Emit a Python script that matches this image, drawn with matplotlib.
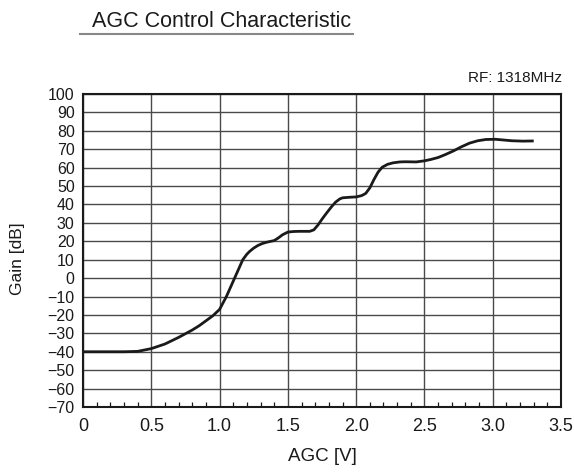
import matplotlib
matplotlib.use("Agg")
import matplotlib.pyplot as plt
from matplotlib.ticker import MultipleLocator
from matplotlib.lines import Line2D

plt.rcParams["font.family"] = ["Liberation Sans", "DejaVu Sans"]

# curve
agc_v = [0.00, 0.10, 0.20, 0.30, 0.40, 0.50, 0.60, 0.70, 0.80, 0.85,
         0.90, 0.95, 1.00, 1.05, 1.08, 1.11, 1.14, 1.17, 1.20, 1.22,
         1.25, 1.28, 1.31, 1.34, 1.37, 1.40, 1.43, 1.46, 1.50, 1.54,
         1.58, 1.66, 1.69, 1.72, 1.75, 1.78, 1.82, 1.85, 1.88, 1.90,
         1.95, 2.00, 2.04, 2.07, 2.10, 2.13, 2.16, 2.19, 2.23, 2.27,
         2.32, 2.36, 2.44, 2.50, 2.55, 2.60, 2.65, 2.71, 2.77, 2.83,
         2.89, 2.95, 3.02, 3.08, 3.14, 3.22, 3.30]
gain_db = [-40.0, -40.0, -40.0, -40.0, -39.8, -38.3, -35.8, -32.2, -28.2, -25.9,
           -23.2, -20.5, -17.0, -10.0, -5.0, 0.0, 5.0, 10.0, 13.0, 14.5,
           16.3, 17.7, 18.7, 19.4, 19.9, 20.4, 21.8, 23.5, 25.0, 25.3,
           25.4, 25.4, 26.2, 28.8, 32.0, 35.0, 38.8, 41.3, 43.0, 43.6,
           43.9, 44.1, 44.8, 46.0, 49.0, 53.5, 57.5, 60.2, 61.8, 62.6,
           63.1, 63.2, 63.1, 63.7, 64.5, 65.5, 67.0, 69.0, 71.3, 73.3,
           74.6, 75.3, 75.4, 75.0, 74.6, 74.4, 74.5]

x_ticks = [0, 0.5, 1.0, 1.5, 2.0, 2.5, 3.0, 3.5]
x_labels = ["0", "0.5", "1.0", "1.5", "2.0", "2.5", "3.0", "3.5"]
y_ticks = list(range(-70, 101, 10))

ink = "#1a1a1a"

fig = plt.figure(figsize=(5.74, 4.74), dpi=100)
ax = fig.add_axes([0.1446, 0.1414, 0.8328, 0.6603])

ax.plot(agc_v, gain_db, color=ink, lw=2.0, solid_joinstyle="round",
        solid_capstyle="butt", zorder=3)

ax.set_xlim(0, 3.5)
ax.set_ylim(-70, 100)
ax.set_xticks(x_ticks)
ax.set_xticklabels(x_labels)
ax.set_yticks(y_ticks)
ax.xaxis.set_minor_locator(MultipleLocator(0.1))
ax.grid(True, which="major", color="#4a4a4a", lw=1.0)
ax.set_axisbelow(True)

ax.tick_params(axis="both", which="major", length=0)
ax.tick_params(axis="x", which="major", labelsize=13, pad=8, colors=ink)
ax.tick_params(axis="y", which="major", labelsize=11.5, pad=6, colors=ink)
ax.tick_params(axis="x", which="minor", direction="in", length=3.5, width=0.9,
               color=ink)
for s in ax.spines.values():
    s.set_linewidth(1.5)
    s.set_color(ink)

ax.set_xlabel("AGC [V]", fontsize=13.5, color=ink, labelpad=9)
ax.set_ylabel("Gain [dB]", fontsize=12.5, color=ink)
ax.yaxis.set_label_coords(-0.121, 0.473)

fig.text(0.160, 0.943, "AGC Control Characteristic", fontsize=15.5,
         color=ink, va="baseline", ha="left")
fig.add_artist(Line2D([80 / 574, 353 / 574], [0.929, 0.929],
                      color="#888888", lw=1.5, transform=fig.transFigure))
fig.text(0.979, 0.8277, "RF: 1318MHz", fontsize=11, color=ink,
         va="baseline", ha="right")

fig.savefig("out.png", dpi=100)
plt.close(fig)
